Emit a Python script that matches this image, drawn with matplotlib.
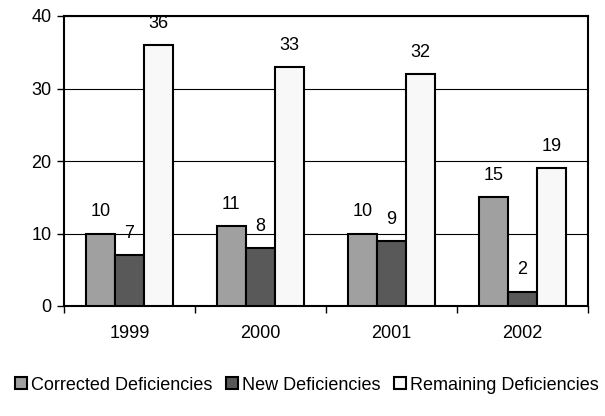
import matplotlib
matplotlib.use("Agg")
import matplotlib.pyplot as plt
import numpy as np
from matplotlib.patches import Patch

years = ["1999", "2000", "2001", "2002"]
corrected = [10, 11, 10, 15]
new = [7, 8, 9, 2]
remaining = [36, 33, 32, 19]
series_names = ["Corrected Deficiencies", "New Deficiencies", "Remaining Deficiencies"]
colors = ["#A0A0A0", "#595959", "#F8F8F8"]

FS = 13
plt.rcParams['font.family'] = ['Liberation Sans', 'DejaVu Sans']
fig = plt.figure(figsize=(6.05, 4.16), dpi=100)
ax = fig.add_axes([64/605, 1-306/416, (588-64)/605, (306-16)/416])

x = np.arange(len(years))
w = 0.222
for i, (vals, c) in enumerate(zip([corrected, new, remaining], colors)):
    pos = x + (i - 1) * w
    ax.bar(pos, vals, width=w, color=c, edgecolor="black", linewidth=1.5, zorder=3)
    for p, v in zip(pos, vals):
        ax.annotate(str(v), (p, v), xytext=(0, 15.5), textcoords="offset points",
                    ha="center", va="center", fontsize=FS, zorder=4)

ax.set_xlim(-0.5, len(years) - 0.5)
ax.set_ylim(0, 40)
ax.set_yticks([0, 10, 20, 30, 40])
ax.yaxis.grid(True, color="black", linewidth=0.8, zorder=0)
ax.set_xticks(np.arange(len(years) + 1) - 0.5)
ax.set_xticklabels([])
ax.set_xticks(x, minor=True)
ax.set_xticklabels(years, minor=True, fontsize=FS)
ax.tick_params(axis="x", which="minor", length=0, pad=14)
ax.tick_params(axis="x", which="major", length=5, width=1, direction="out")
ax.tick_params(axis="y", length=5, width=1, direction="out", labelsize=FS, pad=4)
for s in ax.spines.values():
    s.set_linewidth(1.5)
    s.set_color("black")

handles = [Patch(facecolor=c, edgecolor="black", linewidth=1.5) for c in colors]
fig.legend(handles, series_names, loc="center", bbox_to_anchor=(307/605, 1-385/416),
           ncol=3, frameon=False, fontsize=FS, handlelength=0.65, handleheight=0.65,
           handletextpad=0.25, columnspacing=0.75, borderaxespad=0)

fig.savefig("out.png", dpi=100)
